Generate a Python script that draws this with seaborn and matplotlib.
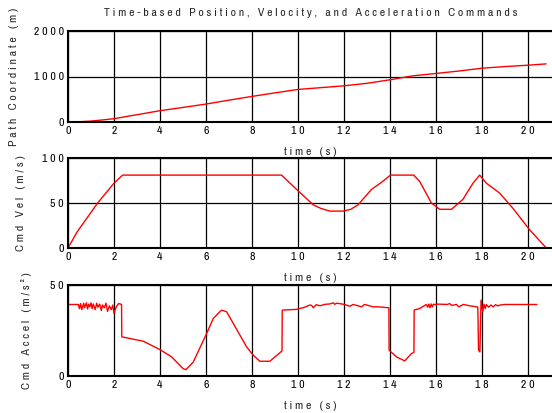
import pandas as pd
import matplotlib
matplotlib.use('Agg')
import matplotlib.pyplot as plt
from matplotlib import font_manager
from matplotlib.ticker import FuncFormatter
import seaborn as sns

# path coordinate (m) vs time (s)
pos_t = [0, 0.5, 1, 1.5, 2, 3, 4, 5, 6, 7, 8, 9, 10, 10.5, 11, 12, 13, 14, 15, 16, 17, 18, 19, 20, 20.8]
pos = [0, 5, 20, 45, 73, 160, 248, 320, 394, 480, 562, 640, 715, 735, 755, 795, 850, 927, 1015, 1066, 1120, 1182, 1218, 1248, 1277]

# commanded velocity (m/s)
vel_t = [0, 0.4, 1.29, 2.0, 2.25, 2.38, 9.29, 9.58, 10.03, 10.5, 10.66, 11.0, 11.39, 11.97, 12.3, 12.62,
         13.2, 13.64, 14.03, 15.04, 15.3, 15.81, 16.17, 16.68, 17.18, 17.62, 17.91, 18.2, 18.78, 19.36,
         20.09, 20.81]
vel = [0, 18, 50, 72, 78, 81, 81, 74, 63, 52, 48, 44, 41, 41, 43, 48,
       65, 73, 81, 81, 74, 50, 43, 43, 54, 72, 81, 72, 61, 44,
       20, 0]

# commanded acceleration (m/s^2)
acc_t = [0, 0.45, 0.5, 0.55, 0.6, 0.68, 0.72, 0.8, 0.85, 0.9, 0.95, 1.0, 1.05, 1.1, 1.18, 1.25,
         1.3, 1.38, 1.45, 1.5, 1.58, 1.65, 1.72, 1.8, 1.88, 1.95, 2.0, 2.1, 2.2, 2.29, 2.33, 2.34,
         3.28, 4.0, 4.51, 5.01, 5.13, 5.45, 6.03, 6.32, 6.68, 6.9, 7.19, 7.77, 8.06, 8.35, 8.78, 9.31, 9.32,
         9.94, 10.3, 10.52, 10.6, 10.67, 10.8, 10.96, 11.2, 11.4, 11.54, 11.6, 11.7, 12.04, 12.26, 12.4,
         12.55, 12.77, 12.9, 12.99, 13.28, 13.5, 13.96, 13.97,
         14.29, 14.65, 14.94, 15.05, 15.06, 15.3, 15.59, 15.65, 15.7, 15.75, 15.8, 15.85, 15.9, 16.0,
         16.1, 16.5, 16.6, 16.7, 16.9, 17.0, 17.2, 17.5, 17.8, 17.83, 17.86, 17.92, 17.97, 18.04, 18.1,
         18.15, 18.2, 18.3, 18.4, 18.5, 18.6, 18.7, 18.8, 19.0, 20.4]
acc = [39.3, 39.3, 37.0, 39.8, 36.5, 40.0, 37.5, 40.2, 36.8, 39.5, 38.0, 40.2, 37.0, 39.6, 36.5, 40.0,
       37.8, 39.5, 36.0, 39.0, 37.5, 40.0, 35.5, 38.5, 36.5, 39.0, 34.4, 38.0, 39.8, 39.5, 39.3, 21.5,
       19.1, 14.5, 10.5, 4.0, 3.5, 7.7, 23.3, 31.6, 36.2, 35.3, 28.9, 16.0, 11.4, 8.1, 8.1, 13.8, 36.2,
       36.6, 37.8, 39.0, 38.8, 37.5, 39.2, 38.6, 39.4, 39.6, 40.2, 39.4, 40.0, 39.3, 38.3, 39.3,
       38.8, 38.0, 39.3, 39.0, 38.0, 38.0, 37.5, 14.2,
       10.5, 8.3, 12.3, 13.0, 36.2, 37.1, 39.3, 37.8, 39.5, 37.5, 39.6, 38.0, 39.4, 39.3,
       39.5, 39.3, 39.8, 38.8, 39.3, 38.0, 39.3, 38.5, 38.0, 37.5, 14.2, 13.2, 41.7, 35.3, 39.5,
       37.0, 39.2, 37.8, 39.0, 38.0, 39.2, 38.5, 39.0, 39.3, 39.3]

x_ticks = list(range(0, 21, 2))
y_ticks = [[0, 1000, 2000], [0, 50, 100], [0, 50]]
y_labels = ['Path Coordinate (m)', 'Cmd Vel (m/s)', 'Cmd Accel (m/s²)']
title = 'Time-based Position, Velocity, and Acceleration Commands'


def spaced(s):
    # old-style wide letter spacing
    return ' '.join(s)


sns.set_style('white')
names = {f.name for f in font_manager.fontManager.ttflist}
narrow = 'DejaVu Sans'
for cand in ['Liberation Sans Narrow', 'Archivo Narrow', 'Barlow Condensed']:
    if cand in names:
        narrow = cand
        break
plt.rcParams['font.family'] = [narrow, 'DejaVu Sans']
plt.rcParams['font.size'] = 8

fig = plt.figure(figsize=(5.52, 4.13), dpi=100)
W, H = 552, 413
left, right = 68, 553
tops = [31, 158, 285]
bottoms = [122, 248, 376]
ylab_x = [-0.100, -0.086, -0.074]

frames = [pd.DataFrame({'t': pos_t, 'v': pos}),
          pd.DataFrame({'t': vel_t, 'v': vel}),
          pd.DataFrame({'t': acc_t, 'v': acc})]

fmt = FuncFormatter(lambda v, p: spaced(f'{v:g}'))

for i, df in enumerate(frames):
    ax = fig.add_axes([left / W, 1 - bottoms[i] / H, (right - left) / W, (bottoms[i] - tops[i]) / H])
    sns.lineplot(data=df, x='t', y='v', ax=ax, color='red', lw=1, estimator=None, sort=False)
    ax.set_xlim(0, 21.1)
    ax.set_ylim(y_ticks[i][0], y_ticks[i][-1])
    ax.set_xticks(x_ticks)
    ax.set_yticks(y_ticks[i])
    ax.xaxis.set_major_formatter(fmt)
    ax.yaxis.set_major_formatter(fmt)
    ax.grid(True, color='black', lw=0.9)
    ax.set_axisbelow(True)
    ax.tick_params(direction='in', length=3, width=1, pad=3, labelsize=8.5, colors='black')
    for sp in ax.spines.values():
        sp.set_color('black')
        sp.set_linewidth(1.5)
    ax.set_xlabel(spaced('time (s)'), fontsize=8.5, labelpad=8)
    ax.set_ylabel(spaced(y_labels[i]), fontsize=8.5)
    ax.yaxis.set_label_coords(ylab_x[i], 0.5)
    if i == 0:
        ax.set_title(spaced(title), fontsize=8.5, pad=11)

fig.savefig('out.png', dpi=100)
